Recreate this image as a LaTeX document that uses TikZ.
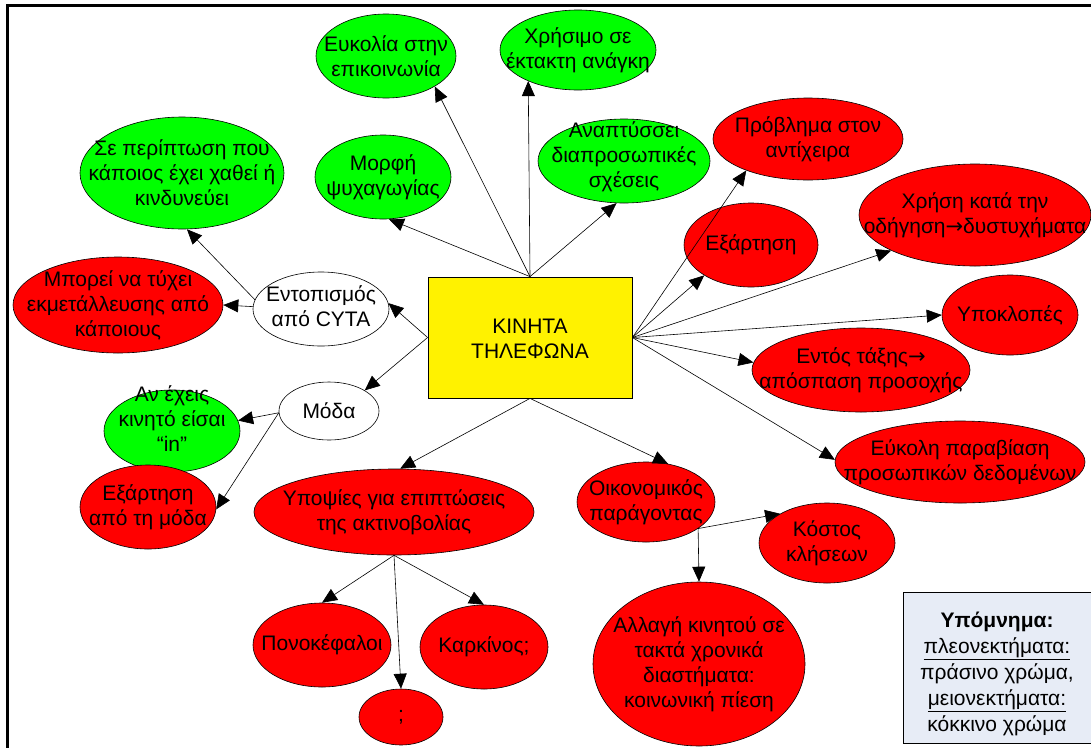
\documentclass[tikz,border=0pt]{standalone}
\usepackage{fontspec}
\setmainfont{Liberation Sans}
\newfontfamily\arrowfont{DejaVu Sans}
\usetikzlibrary{shapes.geometric, arrows.meta}
\definecolor{legendfill}{RGB}{231,236,246}
\newcommand\ar{{\arrowfont →}}
% ellipse bubble: style, name, x, y, width, height, text
\newcommand\bubble[7]{%
  \node[#1, minimum width=#5, minimum height=#6] (#2) at (#3,#4) {};
  \node[lbl] (#2-t) at (#2) {#7};}
\begin{document}
\begin{tikzpicture}[x=1pt, y=-1pt,
  bub/.style={ellipse, draw=black, line width=0.6pt, inner sep=0pt},
  gbub/.style={bub, fill=green},
  rbub/.style={bub, fill=red},
  wbub/.style={bub, fill=white},
  lbl/.style={align=center, font=\fontsize{21}{25}\selectfont, inner sep=0pt},
  link/.style={line width=0.6pt, -{Triangle[length=15pt, width=13pt]}},
]
\useasboundingbox (0,0) rectangle (1091,747);
\clip (0,0) rectangle (1091,747);

% outer frame
\draw[line width=3pt] (7.5,760) -- (7.5,5.5) -- (1100,5.5);

% central box
\node[draw=black, line width=0.8pt, fill=yellow, minimum width=204, minimum height=121,
      inner sep=0pt] (box) at (530,337.5) {};
\node[lbl] (box-t) at (530,339) {ΚΙΝΗΤΑ\\ΤΗΛΕΦΩΝΑ};

% advantages (green)
\bubble{gbub}{euk}{386}{56}{140}{84}{Ευκολία στην\\επικοινωνία}
\bubble{gbub}{chr}{578}{50}{156}{80}{Χρήσιμο σε\\έκτακτη ανάγκη}
\bubble{gbub}{sep}{182}{173}{204}{112}{Σε περίπτωση που\\κάποιος έχει χαθεί ή\\κινδυνεύει}
\bubble{gbub}{mor}{383}{177}{136}{84}{Μορφή\\ψυχαγωγίας}
\node[gbub, minimum width=172, minimum height=84] (ana) at (624,161) {};
\node[lbl] (ana-t) at (624,157) {Αναπτύσσει\\διαπροσωπικές\\σχέσεις};
\node[gbub, minimum width=136, minimum height=82] (ane) at (172,431) {};
\node[lbl] (ane-t) at (172,419) {Αν έχεις\\κινητό είσαι\\“in”};

% disadvantages (red)
\bubble{rbub}{pro}{808}{139}{190}{82}{Πρόβλημα στον\\αντίχειρα}
\bubble{rbub}{xrh}{975}{215}{232}{102}{Χρήση κατά την\\οδήγηση\ar δυστυχήματα}
\bubble{rbub}{exa}{751}{245}{134}{84}{Εξάρτηση}
\bubble{rbub}{ypo}{1010}{315}{136}{80}{Υποκλοπές}
\bubble{rbub}{ent}{861}{370}{218}{84}{Εντός τάξης\ar\\απόσπαση προσοχής}
\bubble{rbub}{eyk}{960}{462}{250}{82}{Εύκολη παραβίαση\\προσωπικών δεδομένων}
\bubble{rbub}{mpo}{118}{305}{210}{96}{Μπορεί να τύχει\\εκμετάλλευσης από\\κάποιους}
\bubble{rbub}{exm}{148}{507}{136}{84}{Εξάρτηση\\από τη μόδα}
\bubble{rbub}{yps}{394}{512}{280}{86}{Υποψίες για επιπτώσεις\\της ακτινοβολίας}
\bubble{rbub}{oik}{646}{502}{138}{80}{Οικονομικός\\παράγοντας}
\bubble{rbub}{kos}{827}{543}{136}{80}{Κόστος\\κλήσεων}
\bubble{rbub}{all}{699}{664}{212}{164}{Αλλαγή κινητού σε\\τακτά χρονικά\\διαστήματα:\\κοινωνική πίεση}
\bubble{rbub}{pon}{322}{645}{138}{84}{Πονοκέφαλοι}
\bubble{rbub}{kar}{484}{647}{128}{84}{Καρκίνος;}
\bubble{rbub}{qq}{401}{717}{84}{56}{;}

% neutral (white)
\node[wbub, minimum width=136, minimum height=74] (loc) at (321,309) {};
\node[lbl] (loc-t) at (321,306) {Εντοπισμός\\από CYTA};
\bubble{wbub}{mod}{329}{411}{100}{58}{Μόδα}

% connectors from the central box
\draw[link] (box.north) -- (euk.-32);
\draw[link] (box.north) -- (chr.-148);
\draw[link] (box.north) -- (mor.-82);
\draw[link] (box.north) -- (ana.-100);
\draw[link] (box.east) -- (pro.-153);
\draw[link] (box.east) -- (exa.-147);
\draw[link] (box.east) -- (xrh.-157);
\draw[link] (box.east) -- (ypo.180);
\draw[link] (box.east) -- (ent.176);
\draw[link] (box.east) -- (eyk.179);
\draw[link] (box.south) -- (oik.60);
\draw[link] (box.south) -- (yps.82);
\draw[link] (box.west) -- (loc.5);
\draw[link] (box.west) -- (mod.30);

% second-level connectors
\draw[link] (loc.172) -- (sep.-85);
\draw[link] (loc.178) -- (mpo.0);
\draw[link] (mod.182) -- (ane.9);
\draw[link] (mod.182) -- (exm.-2);
\draw[link] (yps.south) -- (pon.north);
\draw[link] (yps.south) -- (qq.north);
\draw[link] (yps.south) -- (kar.north);
\draw[link] (oik.-27) -- (kos.148);
\draw[link] (oik.-27) -- (all.north);

% legend
\node[draw=black, line width=1pt, fill=legendfill, minimum width=197, minimum height=151,
      inner sep=0pt] (legend) at (1001.5,667.5) {};
\node[align=center, font=\fontsize{21}{26}\selectfont, inner sep=0pt] (legend-t) at (997,674)
  {\textbf{Υπόμνημα:}\\\underline{πλεονεκτήματα:}\\πράσινο χρώμα,\\\underline{μειονεκτήματα:}\\κόκκινο χρώμα};
\end{tikzpicture}
\end{document}
